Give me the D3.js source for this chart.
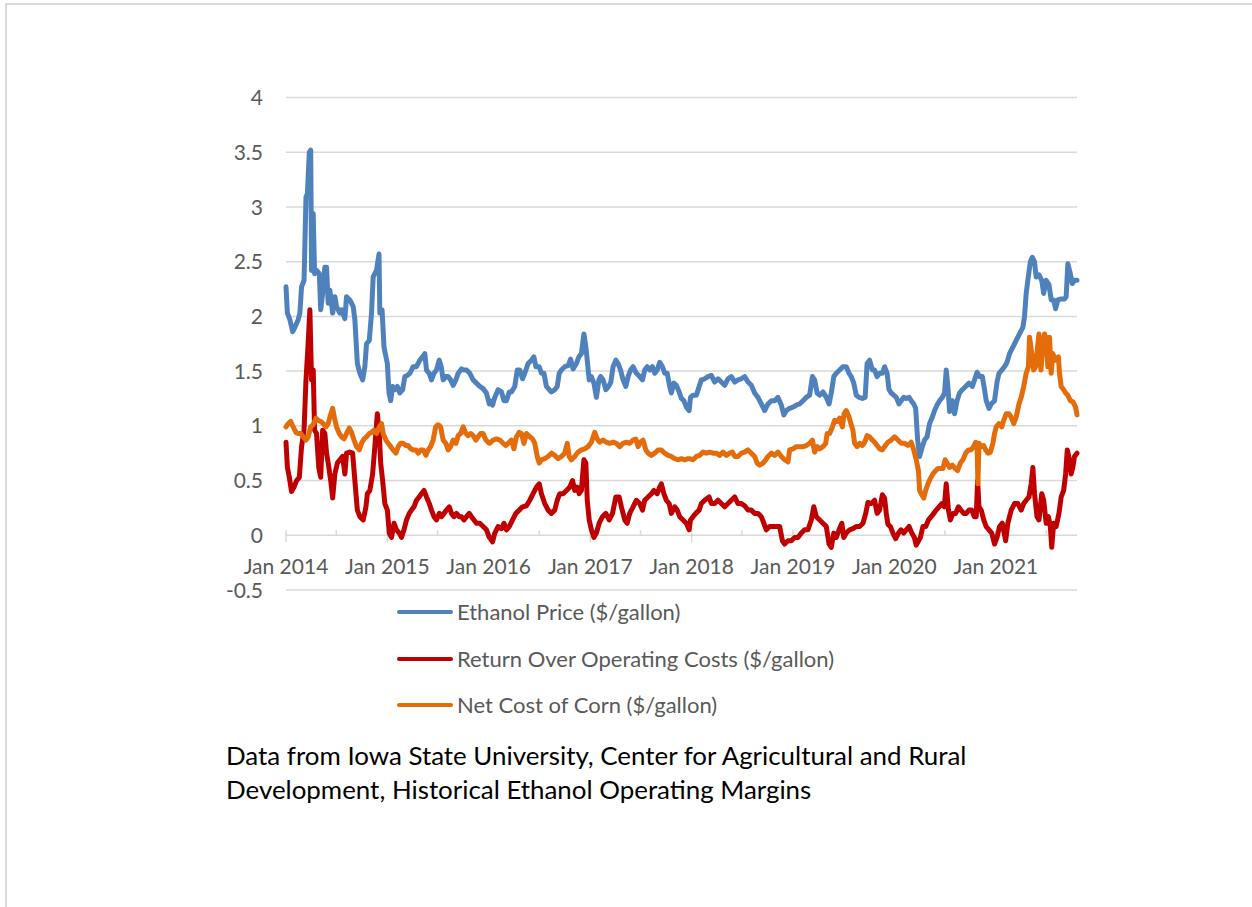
<!DOCTYPE html>
<html>
<head>
<meta charset="utf-8">
<script src="https://cdn.jsdelivr.net/npm/d3@7"></script>
<style>
  html, body { margin: 0; padding: 0; background: #fff; }
  svg { display: block; }
</style>
</head>
<body>
<svg id="chart" width="1252" height="907"></svg>
<script>
// ---- Data (days since 2014-01-01, weekly-ish readings) ----
const startDate = Date.UTC(2014, 0, 1);
const endDay = 2849;

const yTicks = [-0.5, 0, 0.5, 1, 1.5, 2, 2.5, 3, 3.5, 4];
const xLabelYears = [2014, 2015, 2016, 2017, 2018, 2019, 2020, 2021];

const seriesNames = ["Ethanol Price ($/gallon)", "Return Over Operating Costs ($/gallon)", "Net Cost of Corn ($/gallon)"];
const seriesColors = ["#4F81BD", "#C00000", "#E46C0A"];

const ethanolDays = [0,5,14,24,32,44,50,56,65,72,77,84,89,92,98,103,110,120,125,132,140,146,152,158,168,176,182,194,200,212,218,230,242,248,257,266,276,284,290,300,308,314,326,335,338,346,353,360,365,371,377,384,392,401,410,420,428,437,446,452,458,470,482,492,500,506,516,524,533,542,552,559,566,576,584,593,602,612,620,632,641,650,662,674,686,698,710,722,732,
734,744,752,764,776,785,794,804,812,824,833,842,852,860,872,884,893,900,912,920,929,938,948,956,968,977,984,992,1004,1016,1025,1034,1046,1055,1064,1073,1080,1085,1092,1100,1109,1118,1127,1133,1142,1152,1162,1170,1178,1188,1196,1205,1214,1224,1232,1241,1250,1262,1274,1284,1292,1301,1310,1320,1328,1337,1346,1356,1364,1373,1382,1388,1397,1406,1416,1424,1433,1442,1452,
1457,1466,1478,1488,1496,1508,1520,1532,1544,1556,1568,1580,1592,1604,1616,1628,1640,1652,1664,1676,1688,1700,1712,1724,1736,1748,1760,1772,1784,1793,1802,1814,1826,1838,1850,1862,1874,1886,1896,1904,1913,1922,1934,1946,1956,1964,1973,1982,1994,2006,2018,2028,2036,2045,2054,2064,2076,2086,2093,2102,2112,2120,2129,2138,
2148,2156,2165,2172,2180,2189,2198,2208,2216,2225,2234,2244,2252,2261,2268,2275,2282,2292,2300,2309,2318,2328,2336,2345,2354,2364,2372,2378,2384,2390,2400,2408,2417,2426,2436,2448,2460,2472,2480,2489,2498,2508,2516,2522,2532,2540,2552,2561,2568,2578,2588,2597,2606,2618,2630,2642,2654,2660,2666,2672,2681,2688,2696,2702,2712,2722,2729,2738,2748,2756,2765,2772,2780,2792,2804,2810,2816,2825,2832,2840,2849];
const ethanolPrice = [2.27,2.03,1.97,1.86,1.90,1.97,2.03,2.27,2.33,3.09,3.12,3.50,3.52,2.42,2.94,2.39,2.42,2.39,2.06,2.21,2.45,2.45,2.12,2.24,2.03,2.18,2.09,2.03,2.06,1.98,2.18,2.15,2.09,1.97,1.57,1.48,1.42,1.54,1.75,1.78,2.03,2.36,2.42,2.57,2.03,2.06,1.72,1.63,1.57,1.30,1.23,1.36,1.33,1.36,1.30,1.33,1.45,1.46,1.48,1.51,1.54,1.54,1.60,1.63,1.66,1.51,1.48,1.42,1.48,1.51,1.60,1.54,1.42,1.45,1.45,1.42,1.37,1.42,1.48,1.52,1.51,1.51,1.48,1.42,1.39,1.36,1.34,1.30,1.20,
1.23,1.19,1.26,1.33,1.31,1.23,1.23,1.31,1.31,1.36,1.51,1.51,1.43,1.48,1.57,1.60,1.63,1.54,1.54,1.48,1.48,1.36,1.33,1.31,1.33,1.36,1.48,1.51,1.54,1.55,1.61,1.52,1.57,1.63,1.66,1.84,1.72,1.60,1.42,1.45,1.39,1.26,1.42,1.45,1.42,1.33,1.36,1.40,1.54,1.60,1.57,1.51,1.42,1.36,1.45,1.51,1.54,1.48,1.45,1.42,1.51,1.54,1.51,1.54,1.48,1.51,1.58,1.54,1.48,1.48,1.36,1.30,1.39,1.37,1.31,1.25,1.23,1.17,1.14,
1.26,1.28,1.28,1.36,1.42,1.43,1.45,1.46,1.40,1.43,1.40,1.37,1.43,1.45,1.40,1.42,1.43,1.45,1.40,1.37,1.30,1.26,1.20,1.14,1.20,1.23,1.23,1.26,1.19,1.10,1.14,1.16,1.17,1.19,1.20,1.23,1.26,1.28,1.45,1.42,1.30,1.28,1.31,1.26,1.20,1.30,1.45,1.48,1.51,1.54,1.54,1.48,1.45,1.39,1.28,1.26,1.25,1.26,1.57,1.60,1.51,1.51,1.45,1.48,
1.48,1.54,1.48,1.33,1.30,1.28,1.26,1.20,1.23,1.26,1.25,1.26,1.23,1.20,1.16,0.87,0.72,0.81,0.87,0.90,1.02,1.08,1.14,1.19,1.23,1.26,1.30,1.51,1.36,1.13,1.23,1.11,1.23,1.30,1.33,1.36,1.39,1.36,1.42,1.49,1.45,1.45,1.33,1.23,1.16,1.20,1.23,1.40,1.48,1.51,1.54,1.58,1.66,1.72,1.78,1.84,1.90,2.00,2.21,2.33,2.50,2.54,2.50,2.36,2.38,2.33,2.21,2.33,2.29,2.15,2.15,2.07,2.15,2.16,2.16,2.18,2.48,2.39,2.30,2.33,2.33];

const returnDays = [0,5,12,20,29,38,48,56,65,72,79,86,92,98,103,110,118,125,132,140,146,152,161,168,176,185,194,204,212,218,230,240,248,257,266,278,288,293,302,312,320,329,336,341,348,356,365,372,380,389,398,408,416,425,434,444,452,461,470,480,488,497,506,516,524,533,542,552,560,569,578,588,596,605,614,624,632,641,650,660,668,677,686,698,710,722,732,
734,744,752,764,776,785,794,804,816,828,840,852,866,878,890,902,912,920,932,944,956,968,977,986,998,1010,1022,1032,1040,1049,1056,1064,1073,1080,1085,1092,1100,1109,1118,1128,1140,1152,1164,1176,1188,1200,1208,1220,1229,1238,1250,1262,1274,1284,1292,1304,1316,1325,1337,1346,1352,1361,1370,1380,1388,1400,1409,1418,1430,1442,1452,
1457,1466,1476,1488,1496,1508,1524,1532,1544,1556,1568,1580,1592,1604,1616,1628,1640,1652,1664,1676,1688,1700,1712,1721,1730,1742,1754,1766,1778,1788,1796,1808,1820,1832,1844,1856,1868,1880,1892,1901,1910,1922,1934,1946,1956,1964,1973,1982,1992,2002,2009,2018,2030,2042,2054,2066,2078,2088,2096,2108,2120,2129,2138,2148,2156,2162,2168,
2177,2186,2196,2206,2215,2225,2234,2244,2254,2263,2270,2278,2285,2294,2304,2314,2324,2333,2342,2352,2362,2371,2378,2386,2393,2402,2412,2422,2431,2441,2450,2460,2470,2479,2486,2491,2496,2504,2513,2522,2532,2542,2552,2561,2570,2580,2592,2600,2612,2624,2636,2648,2657,2666,2676,2684,2690,2696,2705,2712,2722,2729,2738,2746,2753,2758,2765,2774,2784,2792,2801,2808,2814,2822,2828,2834,2840,2849];
const returnValue = [0.85,0.62,0.53,0.40,0.44,0.50,0.53,0.81,0.96,1.42,1.72,2.06,1.42,1.51,0.96,0.93,0.62,0.53,0.96,0.93,0.75,0.66,0.50,0.34,0.56,0.66,0.69,0.72,0.56,0.75,0.76,0.75,0.50,0.23,0.17,0.14,0.26,0.38,0.41,0.56,0.81,1.11,0.93,0.66,0.50,0.29,0.23,0.02,-0.02,0.11,0.05,0.02,-0.02,0.05,0.14,0.20,0.23,0.26,0.32,0.35,0.38,0.41,0.35,0.29,0.23,0.17,0.14,0.20,0.17,0.20,0.23,0.26,0.20,0.17,0.20,0.17,0.17,0.14,0.17,0.20,0.17,0.14,0.11,0.11,0.08,0.05,-0.02,
-0.02,-0.06,0.02,0.08,0.06,0.11,0.05,0.08,0.14,0.20,0.23,0.26,0.27,0.32,0.38,0.44,0.47,0.38,0.29,0.23,0.20,0.23,0.32,0.38,0.38,0.41,0.44,0.50,0.41,0.44,0.38,0.41,0.69,0.66,0.32,0.14,0.05,-0.02,0.02,0.11,0.17,0.20,0.14,0.20,0.35,0.35,0.26,0.14,0.11,0.20,0.26,0.32,0.29,0.23,0.32,0.35,0.38,0.41,0.38,0.44,0.47,0.38,0.32,0.29,0.20,0.26,0.23,0.17,0.14,0.11,0.05,
0.14,0.17,0.20,0.23,0.29,0.32,0.35,0.29,0.29,0.32,0.29,0.26,0.29,0.32,0.35,0.29,0.29,0.27,0.23,0.23,0.20,0.20,0.17,0.11,0.05,0.08,0.08,0.08,0.08,-0.05,-0.08,-0.05,-0.05,-0.02,-0.02,0.02,0.05,0.05,0.14,0.26,0.17,0.14,0.11,0.08,-0.08,-0.11,0.02,-0.02,0.05,0.11,-0.02,0.02,0.05,0.06,0.08,0.08,0.11,0.20,0.30,0.29,0.32,0.20,0.23,0.37,0.34,0.20,0.10,
0.08,0.02,-0.03,0.02,0.05,0.02,0.05,0.08,0.02,-0.02,-0.09,-0.05,-0.02,0.08,0.08,0.14,0.17,0.20,0.23,0.26,0.29,0.26,0.47,0.23,0.14,0.20,0.20,0.26,0.23,0.20,0.20,0.23,0.23,0.17,0.17,0.50,0.26,0.23,0.14,0.08,0.05,0.02,-0.08,-0.02,0.08,0.11,-0.05,0.11,0.23,0.29,0.29,0.23,0.29,0.32,0.35,0.47,0.62,0.38,0.17,0.14,0.38,0.32,0.11,0.17,0.08,-0.11,0.11,0.08,0.20,0.35,0.41,0.56,0.78,0.69,0.56,0.62,0.72,0.75];

const cornDays = [0,8,17,26,36,44,53,62,72,80,89,98,108,116,125,134,144,152,158,168,174,182,192,200,209,218,228,236,245,254,264,272,281,290,300,308,317,326,336,344,350,360,368,377,386,396,404,413,422,432,440,449,458,468,476,485,494,504,512,521,530,539,548,557,566,576,584,593,602,612,620,629,638,648,656,665,674,684,692,701,710,720,732,
734,746,758,770,782,792,804,812,821,830,840,848,857,866,878,888,896,905,912,920,932,944,956,968,980,992,1004,1013,1020,1028,1040,1052,1064,1076,1088,1100,1112,1121,1130,1142,1154,1166,1178,1190,1202,1214,1226,1238,1250,1260,1268,1277,1286,1296,1304,1316,1328,1340,1352,1364,1376,1388,1400,1412,1424,1436,1448,
1454,1466,1478,1490,1502,1514,1526,1538,1550,1562,1574,1586,1598,1608,1616,1628,1640,1652,1664,1676,1688,1697,1706,1718,1728,1736,1748,1760,1772,1784,1796,1808,1814,1826,1838,1850,1862,1874,1886,1896,1904,1913,1922,1934,1944,1949,1958,1968,1976,1985,1994,2004,2010,2018,2028,2036,2042,2048,2057,2066,2076,2084,2093,2102,2112,2120,2129,2138,2148,2156,2165,
2168,2180,2192,2204,2216,2228,2240,2252,2261,2270,2278,2282,2290,2297,2304,2312,2321,2330,2340,2348,2357,2366,2374,2381,2390,2400,2410,2419,2429,2438,2448,2458,2467,2477,2484,2489,2492,2496,2504,2513,2520,2528,2537,2546,2552,2558,2568,2578,2585,2594,2604,2612,2621,2630,2640,2648,2657,2666,2674,2678,2686,2693,2700,2707,2712,2719,2726,2732,2738,2744,2750,2756,2762,2772,2782,2786,2792,2801,2808,2816,2825,2834,2844,2849];
const cornCost = [0.99,1.02,1.04,0.99,0.94,0.93,0.93,0.90,0.87,0.90,0.99,1.01,1.07,1.05,1.04,1.02,0.99,1.02,1.08,1.16,1.08,0.99,0.93,0.90,0.88,0.93,0.98,0.94,0.87,0.81,0.78,0.84,0.88,0.90,0.93,0.94,0.96,0.93,0.99,1.02,0.93,0.87,0.84,0.81,0.78,0.75,0.81,0.84,0.84,0.82,0.82,0.79,0.78,0.78,0.75,0.78,0.78,0.73,0.78,0.81,0.87,0.99,1.01,0.99,0.87,0.84,0.78,0.81,0.87,0.84,0.91,0.93,0.99,0.93,0.91,0.93,0.91,0.87,0.90,0.93,0.93,0.87,0.84,
0.84,0.87,0.88,0.87,0.84,0.82,0.85,0.87,0.79,0.90,0.94,0.93,0.84,0.93,0.90,0.88,0.84,0.72,0.66,0.69,0.70,0.72,0.75,0.73,0.70,0.72,0.75,0.84,0.72,0.69,0.72,0.76,0.78,0.79,0.81,0.85,0.94,0.88,0.85,0.87,0.85,0.84,0.85,0.84,0.81,0.84,0.85,0.84,0.87,0.88,0.81,0.85,0.87,0.78,0.75,0.73,0.75,0.78,0.78,0.75,0.73,0.72,0.70,0.69,0.70,0.69,0.70,
0.70,0.69,0.72,0.73,0.76,0.75,0.76,0.75,0.75,0.73,0.76,0.73,0.75,0.76,0.72,0.72,0.75,0.76,0.78,0.75,0.72,0.66,0.64,0.66,0.69,0.72,0.75,0.73,0.76,0.72,0.69,0.67,0.78,0.79,0.81,0.81,0.81,0.82,0.84,0.87,0.76,0.81,0.79,0.81,0.84,0.93,0.93,0.99,1.05,1.04,1.07,0.99,1.11,1.14,1.08,1.01,0.96,0.84,0.81,0.84,0.82,0.85,0.91,0.90,0.87,0.85,0.82,0.79,0.78,0.81,0.84,
0.85,0.87,0.90,0.87,0.84,0.84,0.82,0.85,0.78,0.69,0.59,0.41,0.37,0.34,0.41,0.47,0.52,0.56,0.59,0.61,0.61,0.61,0.69,0.66,0.62,0.64,0.61,0.59,0.66,0.69,0.75,0.78,0.78,0.81,0.85,0.84,0.47,0.84,0.81,0.82,0.78,0.75,0.76,0.84,0.93,0.99,1.02,0.99,1.05,1.11,1.11,1.08,1.02,1.08,1.20,1.26,1.36,1.48,1.54,1.81,1.66,1.51,1.54,1.72,1.84,1.51,1.72,1.84,1.78,1.54,1.81,1.48,1.66,1.60,1.63,1.48,1.36,1.33,1.30,1.28,1.23,1.22,1.17,1.10];

// ---- Build ----
const toDate = d => new Date(startDate + d * 86400000);
const svg = d3.select("#chart");
const FONT = "Lato, 'Open Sans', sans-serif";
const GRID = "#D9D9D9";
const TEXT = "#595959";

// outer frame
svg.append("line").attr("x1", 5).attr("x2", 1252).attr("y1", 4).attr("y2", 4).attr("stroke", GRID).attr("stroke-width", 2);
svg.append("line").attr("x1", 6).attr("x2", 6).attr("y1", 3).attr("y2", 907).attr("stroke", GRID).attr("stroke-width", 2);

const x = d3.scaleUtc().domain([toDate(0), toDate(endDay)]).range([286, 1077]);
const y = d3.scaleLinear().domain([-0.5, 4]).range([590, 97.5]);

// gridlines
svg.append("g").selectAll("line").data(yTicks).join("line")
  .attr("x1", x.range()[0]).attr("x2", x.range()[1])
  .attr("y1", d => y(d)).attr("y2", d => y(d))
  .attr("stroke", GRID).attr("stroke-width", 1.5);

// y labels
svg.append("g").selectAll("text").data(yTicks).join("text")
  .attr("x", 263).attr("y", d => y(d)).attr("dy", "0.36em")
  .attr("text-anchor", "end")
  .attr("font-family", FONT).attr("font-size", 21).attr("fill", TEXT)
  .text(d => String(d));

// x axis ticks (crossing at y=0)
const y0 = y(0);
const yearTicks = d3.utcYear.range(toDate(0), toDate(endDay + 1));
const halfTicks = d3.utcMonth.every(6).range(toDate(0), toDate(endDay + 1)).filter(d => d.getUTCMonth() === 6);
svg.append("g").selectAll("line").data(yearTicks).join("line")
  .attr("x1", d => x(d)).attr("x2", d => x(d))
  .attr("y1", y0 - 5).attr("y2", y0 + 7)
  .attr("stroke", GRID).attr("stroke-width", 1.5);
svg.append("g").selectAll("line").data(halfTicks).join("line")
  .attr("x1", d => x(d)).attr("x2", d => x(d))
  .attr("y1", y0 - 5).attr("y2", y0)
  .attr("stroke", GRID).attr("stroke-width", 1.5);

// x labels
svg.append("g").selectAll("text").data(xLabelYears).join("text")
  .attr("x", d => x(new Date(Date.UTC(d, 0, 1)))).attr("y", 574)
  .attr("text-anchor", "middle")
  .attr("font-family", FONT).attr("font-size", 21).attr("fill", TEXT)
  .text(d => "Jan " + d);

// series lines
const series = [
  { days: ethanolDays, vals: ethanolPrice },
  { days: returnDays, vals: returnValue },
  { days: cornDays, vals: cornCost }
];
const line = d3.line().x(p => x(toDate(p[0]))).y(p => y(p[1]));
series.forEach((s, i) => {
  const pts = s.days.map((d, j) => [d, s.vals[j]]);
  svg.append("path").datum(pts)
    .attr("d", line)
    .attr("fill", "none")
    .attr("stroke", seriesColors[i])
    .attr("stroke-width", 5)
    .attr("stroke-linejoin", "round")
    .attr("stroke-linecap", "round");
});

// legend
const legendY = [612, 659, 705];
const lg = svg.append("g");
seriesNames.forEach((name, i) => {
  lg.append("line").attr("x1", 399).attr("x2", 451)
    .attr("y1", legendY[i]).attr("y2", legendY[i])
    .attr("stroke", seriesColors[i]).attr("stroke-width", 4).attr("stroke-linecap", "round");
  lg.append("text").attr("x", 457).attr("y", legendY[i]).attr("dy", "0.36em")
    .attr("font-family", FONT).attr("font-size", 22).attr("fill", TEXT)
    .text(name);
});

// footer note
const noteLines = ["Data from Iowa State University, Center for Agricultural and Rural", "Development, Historical Ethanol Operating Margins"];
svg.append("g").selectAll("text").data(noteLines).join("text")
  .attr("x", 226).attr("y", (d, i) => 765 + i * 34)
  .attr("font-family", FONT).attr("font-size", 25.9).attr("fill", "#000")
  .text(d => d);
</script>
</body>
</html>
